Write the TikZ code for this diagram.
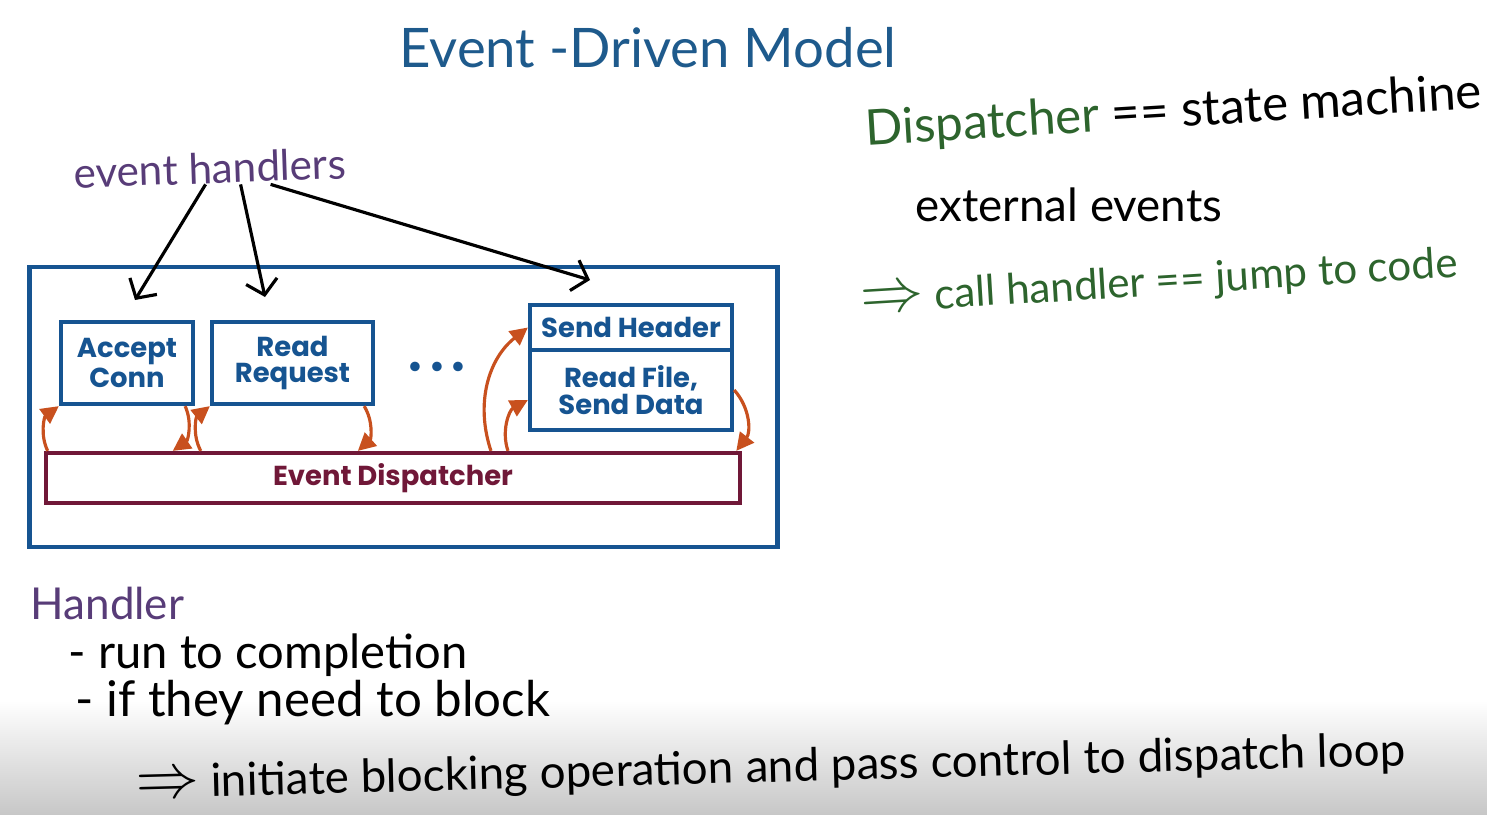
\documentclass[tikz,border=0pt]{standalone}
\usepackage{fontspec}
\setmainfont{Lato}
\newfontfamily\boxfont{Poppins}
\usetikzlibrary{arrows.meta}

\definecolor{titleblue}{RGB}{30,90,140}
\definecolor{boxblue}{RGB}{22,84,145}
\definecolor{inkpurple}{RGB}{88,60,120}
\definecolor{inkgreen}{RGB}{45,100,45}
\definecolor{dispred}{RGB}{112,24,56}
\definecolor{callorange}{RGB}{200,80,30}

\tikzset{
  block/.style={draw=boxblue, line width=1.2pt, fill=white, text=boxblue,
    font=\boxfont\bfseries\fontsize{7.8}{7.6}\selectfont, align=center, inner sep=0pt},
  note/.style={inner sep=0pt, anchor=west}
}
\newcommand{\implies}{\scalebox{1.5}{$\Rightarrow$}}

\begin{document}
\begin{tikzpicture}[x=0.01cm, y=-0.01cm]
% page
\useasboundingbox (0,0) rectangle (1487,815);
\fill[white] (0,0) rectangle (1487,815);
\shade[top color=white, bottom color=black!22] (0,700) rectangle (1487,815);

% handwritten notes
\node (title) at (648,48) [inner sep=0pt, text=titleblue, font=\fontsize{15.5}{18}\selectfont] {Event -Driven Model};
\node (handlers) at (210,168) [inner sep=0pt, rotate=2, text=inkpurple, font=\fontsize{12}{14}\selectfont] {event handlers};
\node (statemach) at (865,132) [note, rotate=3.5, font=\fontsize{14}{16}\selectfont] {{\color{inkgreen}Dispatcher} == state machine};
\node (external) at (915,205) [note, font=\fontsize{13}{15}\selectfont] {external events};
\node (callhdl) at (860,302) [note, rotate=3.5, text=inkgreen, font=\fontsize{12}{14}\selectfont] {\implies{} call handler == jump to code};
\node (handler) at (30,603) [note, text=inkpurple, font=\fontsize{12.5}{15}\selectfont] {Handler};
\node (runto) at (68,655) [note, font=\fontsize{13.4}{15}\selectfont] {- run to completion};
\node (ifblock) at (75,703) [note, font=\fontsize{14}{16}\selectfont] {- if they need to block};
\node (initiate) at (135,786) [note, rotate=1.5, font=\fontsize{13}{15}\selectfont] {\implies{} initiate blocking operation and pass control to dispatch loop};

% server frame and handler boxes
\node (frame) at (403.5,407) [draw=boxblue, line width=1.3pt, minimum width=7.47cm, minimum height=2.8cm] {};
\node (accept) at (127,363) [block, minimum width=1.32cm, minimum height=0.82cm] {Accept\\Conn};
\node (readreq) at (292.5,363) [block, minimum width=1.61cm, minimum height=0.82cm] {Read\\Request};
\node (dots) at (437,370) [text=boxblue, font=\boxfont\bfseries\fontsize{9}{9}\selectfont] {\textbullet\,\textbullet\,\textbullet};
\node (sendhdr) at (631,327.5) [block, minimum width=2.02cm, minimum height=0.45cm] {Send Header};
\node (readfile) at (631,390) [block, minimum width=2.02cm, minimum height=0.80cm] {Read File,\\Send Data};
\node (disp) at (393,478) [block, draw=dispred, text=dispred, minimum width=6.94cm, minimum height=0.5cm] {Event Dispatcher};

% which event goes to which handler
\coordinate (acctip) at (135,300);
\coordinate (readtip) at (265,297);
\coordinate (sendtip) at (590,280);
\begin{scope}[line width=0.9pt, -{Straight Barb[length=4pt, width=9pt]}]
    \draw ([xshift=-0.05cm]handlers.south) -- (acctip);
    \draw ([xshift=0.3cm]handlers.south) -- (readtip);
    \draw ([xshift=0.6cm]handlers.south) -- (sendtip);
\end{scope}

% dispatch loop
\begin{scope}[>={Triangle[length=5pt, width=5pt]},
              every edge/.style={draw=callorange, line width=0.9pt}]
    \path [->] ([xshift=0.04cm]disp.north west) edge [bend left=40] (accept.south west);
    \path [->] ([xshift=-0.1cm]accept.south east) edge [bend left=40] ([xshift=1.29cm]disp.north west);
    \path [->] ([xshift=1.57cm]disp.north west) edge [bend left=40] (readreq.south west);
    \path [->] ([xshift=-0.11cm]readreq.south east) edge [bend left=40] ([xshift=3.14cm]disp.north west);
    \path [->] ([xshift=4.47cm]disp.north west) edge [bend left=35] (sendhdr.west);
    \path [->] ([xshift=4.64cm]disp.north west) edge [bend left=40] ([yshift=-0.1cm]readfile.west);
    \path [->] (readfile.east) edge [bend left=40] ([xshift=-0.06cm]disp.north east);
\end{scope}
\end{tikzpicture}
\end{document}
